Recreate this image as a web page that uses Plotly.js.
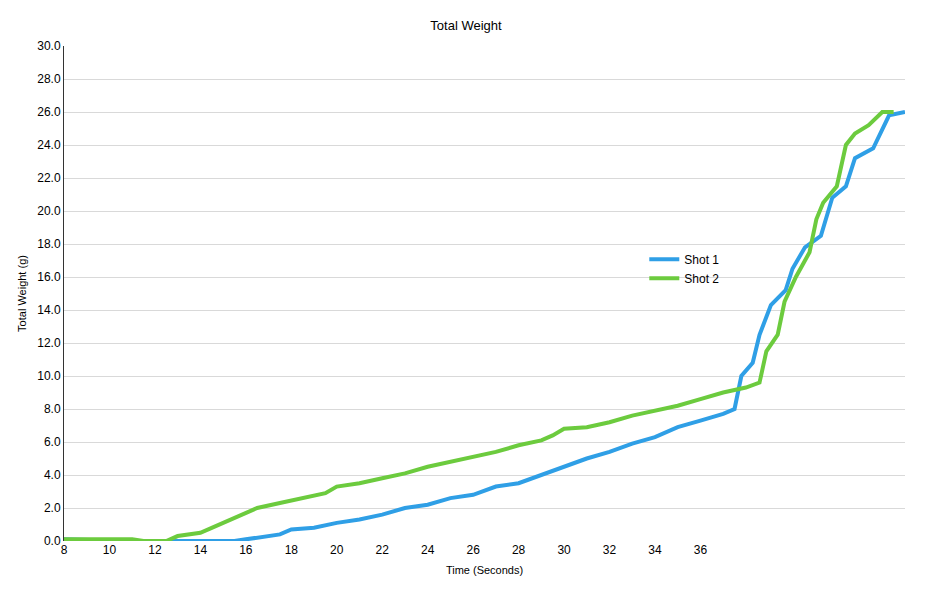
<!DOCTYPE html>
<html><head><script src="https://cdn.plot.ly/plotly-3.0.1.min.js"></script></head>
<body style="margin:0"><div id="c" style="width:932px;height:601px"></div>
<script>
const t1=[8,9,9.5,10,15.5,16,17,17.5,18,19,20,21,22,23,24,25,26,27,28,29,30,31,32,33,34,35,36,37,37.5,37.8,38.3,38.6,39.1,39.75,40.05,40.6,41.3,41.8,42.4,42.8,43.6,44.3,45];
const w1=[0.1,0.1,0.05,0,0,0.1,0.3,0.4,0.7,0.8,1.1,1.3,1.6,2.0,2.2,2.6,2.8,3.3,3.5,4.0,4.5,5.0,5.4,5.9,6.3,6.9,7.3,7.7,8.0,10.0,10.8,12.5,14.3,15.2,16.5,17.8,18.5,20.8,21.5,23.2,23.8,25.8,26.0];
const t2=[8,9,10,11,11.5,12.5,13,14,14.5,15,15.7,16.5,17.5,18.5,19.5,20,21,22,23,24,25,26,27,28,29,29.5,30,31,32,33,34,35,36,37,38,38.6,38.9,39.4,39.7,40.2,40.8,41.1,41.4,42,42.4,42.8,43.4,44,44.5];
const w2=[0.1,0.1,0.1,0.1,0,0,0.3,0.5,0.8,1.1,1.5,2.0,2.3,2.6,2.9,3.3,3.5,3.8,4.1,4.5,4.8,5.1,5.4,5.8,6.1,6.4,6.8,6.9,7.2,7.6,7.9,8.2,8.6,9.0,9.3,9.6,11.5,12.5,14.5,16.0,17.5,19.5,20.5,21.5,24.0,24.7,25.2,26.0,26.0];
const ticks=[8,10,12,14,16,18,20,22,24,26,28,30,32,34,36];
Plotly.newPlot('c',[
{x:t1,y:w1,name:'Shot 1',mode:'lines',line:{color:'#2f9fe6',width:4}},
{x:t2,y:w2,name:'Shot 2',mode:'lines',line:{color:'#6ccb3e',width:4}}],
{width:932,height:601,margin:{l:64,r:27,t:46,b:60},paper_bgcolor:'#fff',plot_bgcolor:'#fff',
font:{family:'Liberation Sans, Arial',size:12,color:'#000'},
title:{text:'Total Weight',x:0.5,y:0.965,font:{size:13}},
showlegend:true,legend:{x:0.69,y:0.55,bgcolor:'rgba(0,0,0,0)',itemwidth:30,font:{size:12}},
xaxis:{range:[8,45],tickvals:ticks,ticktext:ticks.map(String),showgrid:false,zeroline:false,showline:false,ticks:'',title:{text:'Time (Seconds)',font:{size:11},standoff:10}},
yaxis:{range:[0,30],dtick:2,tickformat:'.1f',gridcolor:'#d9d9d9',zeroline:false,showline:true,linecolor:'#333',linewidth:1,title:{text:'Total Weight (g)',font:{size:11},standoff:8}}
},{displayModeBar:false});
</script></body></html>
